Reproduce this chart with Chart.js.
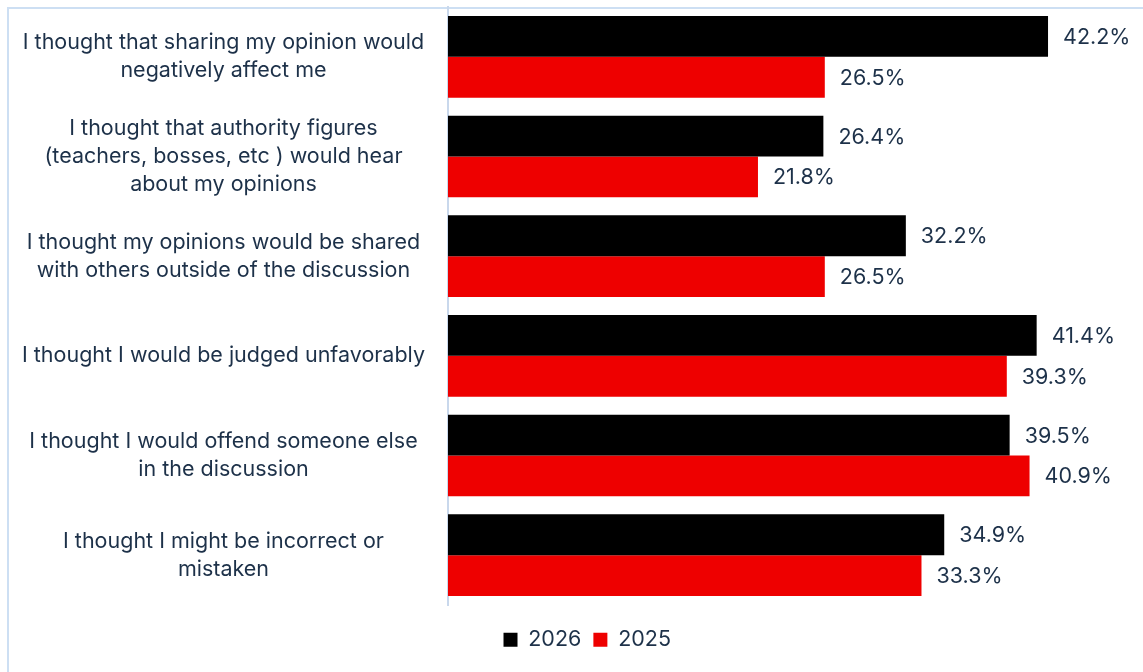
<!DOCTYPE html>
<html>
<head>
<meta charset="utf-8">
<script src="https://cdn.jsdelivr.net/npm/chart.js@4"></script>
<style>
  html, body { margin: 0; padding: 0; background: #ffffff; overflow: hidden; }
  #wrap { position: relative; width: 1143px; height: 672px; }
  #frame { position: absolute; left: 7px; top: 7px; width: 1300px; height: 800px;
           border: 2px solid #cddff3; box-sizing: border-box; }
  canvas { position: absolute; left: 0; top: 0; }
</style>
</head>
<body>
<div id="wrap">
  <div id="frame"></div>
  <canvas id="c" width="1143" height="672"></canvas>
</div>
<script>
const categories = [
  ["I thought that sharing my opinion would", "negatively affect me"],
  ["I thought that authority figures", "(teachers, bosses, etc ) would hear", "about my opinions"],
  ["I thought my opinions would be shared", "with others outside of the discussion"],
  ["I thought I would be judged unfavorably"],
  ["I thought I would offend someone else", "in the discussion"],
  ["I thought I might be incorrect or", "mistaken"]
];
const seriesNames = ["2026", "2025"];
const values2026 = [42.2, 26.4, 32.2, 41.4, 39.5, 34.9];
const values2025 = [26.5, 21.8, 26.5, 39.3, 40.9, 33.3];

const textColor = "#1d3149";
const fontFamily = "Inter, 'Open Sans', sans-serif";
const fontSize = 21.5;

// Writes each bar's value just past its end
const valueLabels = {
  id: "valueLabels",
  afterDatasetsDraw(chart) {
    const ctx = chart.ctx;
    ctx.save();
    ctx.font = fontSize + "px " + fontFamily;
    ctx.fillStyle = textColor;
    ctx.textAlign = "left";
    ctx.textBaseline = "middle";
    chart.data.datasets.forEach((ds, i) => {
      chart.getDatasetMeta(i).data.forEach((bar, j) => {
        ctx.fillText(ds.data[j].toFixed(1) + "%", bar.x + 15, bar.y + 1);
      });
    });
    ctx.restore();
  }
};

// Nudges the legend to the right so it sits under the bars
const legendShift = {
  id: "legendShift",
  afterLayout(chart) {
    if (chart.legend) {
      chart.legend.left += 22;
      chart.legend.right += 22;
    }
  }
};

new Chart(document.getElementById("c"), {
  type: "bar",
  data: {
    labels: categories,
    datasets: [
      { label: seriesNames[0], data: values2026, backgroundColor: "#000000",
        categoryPercentage: 0.82, barPercentage: 1.0 },
      { label: seriesNames[1], data: values2025, backgroundColor: "#ee0000",
        categoryPercentage: 0.82, barPercentage: 1.0 }
    ]
  },
  options: {
    indexAxis: "y",
    responsive: false,
    animation: false,
    layout: { padding: { left: 0, right: 12.5, top: 7, bottom: 11.5 } },
    scales: {
      x: {
        min: 0,
        max: 48,
        afterFit(scale) { scale.height = 12; },
        grid: { display: false, drawTicks: false },
        border: { display: false },
        ticks: { display: false }
      },
      y: {
        afterFit(scale) {
          scale.width = 448;
          scale.paddingTop = 0;
          scale.paddingBottom = 0;
        },
        grid: { display: false, drawTicks: false },
        border: { display: true, color: "#c9d8ec", width: 2 },
        ticks: {
          crossAlign: "center",
          padding: 23,
          color: textColor,
          font: { family: fontFamily, size: fontSize, lineHeight: 28 / fontSize }
        }
      }
    },
    plugins: {
      legend: {
        position: "bottom",
        labels: {
          boxWidth: 14,
          boxHeight: 14,
          padding: 12,
          color: textColor,
          font: { family: fontFamily, size: fontSize }
        }
      },
      tooltip: { enabled: false }
    }
  },
  plugins: [valueLabels, legendShift]
});
</script>
</body>
</html>
